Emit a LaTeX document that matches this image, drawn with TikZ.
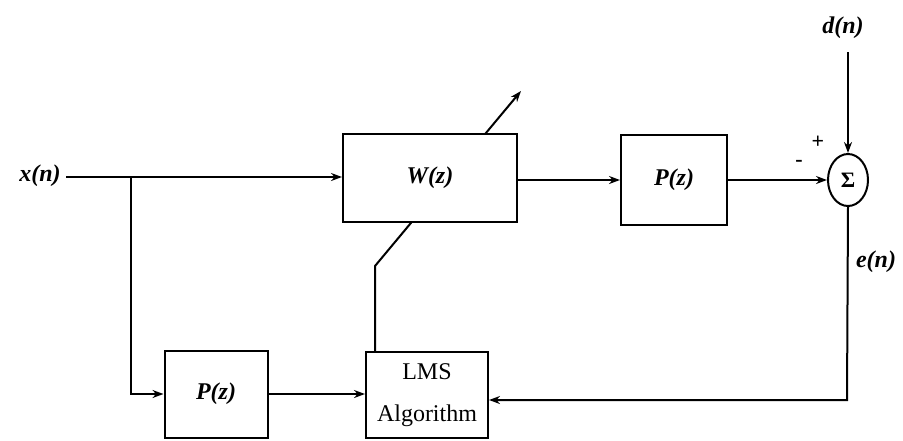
\documentclass[tikz,border=0pt]{standalone}
\usepackage{fontspec}
\setmainfont{Liberation Serif}
\usetikzlibrary{arrows.meta,shapes.geometric}
\begin{document}
\begin{tikzpicture}[x=1pt,y=-1pt,
  line width=2pt,
  >={Stealth[length=11pt,width=8pt]},
  blk/.style={draw,fill=white,minimum width=#1,inner sep=0pt},
  lbl/.style={font=\fontsize{24}{28}\selectfont\itshape\bfseries},
  every node/.style={font=\fontsize{24}{28}\selectfont}]
\useasboundingbox (0,0) rectangle (903,440);
% nodes
\node[lbl] (xn) at (40,176) {x(n)};
\coordinate (xs) at (66,177);
\coordinate (br) at (131,177);
\node[lbl] (dn) at (843,28) {d(n)};
\coordinate (dtop) at (848,52);
\node[lbl] (en) at (876,262) {e(n)};
% adaptation arrow (drawn first, box covers middle)
\node[blk=122pt,minimum height=86pt,align=center] (lms) at (427,395)
  {LMS\\[14pt]Algorithm};
\coordinate (bend) at (375,266);
\coordinate (tip) at (521,91);
\draw[->] (lms.north -| bend) -- (bend) -- (tip);
\node[blk=174pt,minimum height=88pt,lbl] (W) at (430,178) {W(z)};
\node[blk=106pt,minimum height=90pt,lbl] (P1) at (674,180) {P(z)};
\node[draw,ellipse,minimum width=40pt,minimum height=52pt,inner sep=0pt,font=\fontsize{22}{24}\selectfont\bfseries] (sum) at (848,180) {Σ};
\node[blk=103pt,minimum height=87pt,lbl] (P2) at (216,394) {P(z)};
\node[font=\fontsize{22}{24}\selectfont\bfseries] (plus) at (818,142) {+};
\node[font=\fontsize{22}{24}\selectfont\bfseries] (minus) at (799,163) {-};
\coordinate (corner) at (847,400);
% connectors
\draw[->] (xs) -- (W.west |- xs);
\draw[->] (br) |- (P2.west);
\draw[->] (W.east |- P1.west) -- (P1.west);
\draw[->] (P1.east) -- (sum.west);
\draw[->] (dtop) -- (sum.north);
\draw[->] (sum.south) -- (corner) -- (lms.east |- corner);
\draw[->] (P2.east) -- (lms.west |- P2.east);
\end{tikzpicture}
\end{document}
